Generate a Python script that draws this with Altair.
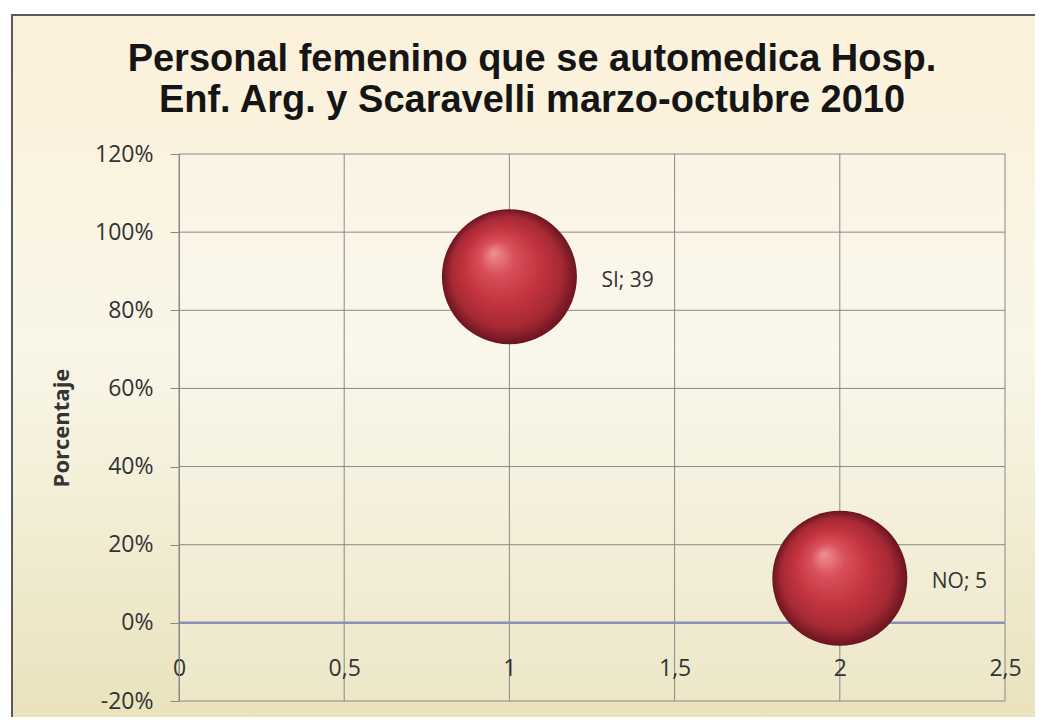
import altair as alt
import pandas as pd

# ---- data ----
categories = ["SI", "NO"]
x_values = [1, 2]
pct_values = [0.886, 0.114]
counts = [39, 5]
y_ticks = [-0.2, 0, 0.2, 0.4, 0.6, 0.8, 1.0, 1.2]
x_ticks = [0, 0.5, 1, 1.5, 2, 2.5]
title_lines = ["Personal femenino que se automedica Hosp.",
               "Enf. Arg. y Scaravelli marzo-octubre 2010"]
y_title = "Porcentaje"

df = pd.DataFrame({"cat": categories, "x": x_values, "pct": pct_values, "n": counts})
df_xgrid = pd.DataFrame({"x": x_ticks})
df_ygrid = pd.DataFrame({"pct": y_ticks})
df_zero = pd.DataFrame({"pct": [0]})

W, H = 826, 547
LABEL_FONT = "Open Sans"
GRID = "#888888"
TXT = "#333333"

x_scale = alt.Scale(domain=[0, 2.5], nice=False, zero=False)
y_scale = alt.Scale(domain=[-0.2, 1.2], nice=False, zero=False)

# chart-area background panel (gradient, with border)
panel = alt.Chart(alt.Data(values=[{}])).mark_rect(
    color=alt.LinearGradient(
        gradient="linear", x1=0, y1=0, x2=0, y2=1,
        stops=[alt.GradientStop(color="#fcf1da", offset=0),
               alt.GradientStop(color="#f9f6e8", offset=0.45),
               alt.GradientStop(color="#e8e0b8", offset=1)]),
    stroke="#5a5a5a", strokeWidth=2,
).encode(x=alt.value(-167), x2=alt.value(W + 60), y=alt.value(-139), y2=alt.value(H + 60))

plot_bg = alt.Chart(alt.Data(values=[{}])).mark_rect(
    color="#ffffff", opacity=0.15
).encode(x=alt.value(0), x2=alt.value(W), y=alt.value(0), y2=alt.value(H))

xgrid = alt.Chart(df_xgrid).mark_rule(color=GRID, strokeWidth=1).encode(
    x=alt.X("x:Q", scale=x_scale), y=alt.value(0), y2=alt.value(H))
ygrid = alt.Chart(df_ygrid).mark_rule(color=GRID, strokeWidth=1).encode(
    y=alt.Y("pct:Q", scale=y_scale), x=alt.value(0), x2=alt.value(W))
zero_line = alt.Chart(df_zero).mark_rule(color="#8a91b2", strokeWidth=2.5).encode(
    y=alt.Y("pct:Q", scale=y_scale), x=alt.value(0), x2=alt.value(W))

base = alt.Chart(df)

bubbles = base.mark_circle(
    size=18225, opacity=1,
    color=alt.RadialGradient(
        gradient="radial", x1=0.38, y1=0.32, r1=0, x2=0.5, y2=0.5, r2=0.5,
        stops=[alt.GradientStop(color="#ee9096", offset=0),
               alt.GradientStop(color="#d9505a", offset=0.25),
               alt.GradientStop(color="#c3343f", offset=0.55),
               alt.GradientStop(color="#a52934", offset=0.82),
               alt.GradientStop(color="#7a1a26", offset=0.95),
               alt.GradientStop(color="#6c1520", offset=1)]),
).encode(
    x=alt.X("x:Q", scale=x_scale,
            axis=alt.Axis(values=x_ticks, orient="bottom", offset=-78, zindex=1,
                          labelExpr="replace(format(datum.value, '.1~f'), '.', ',')",
                          ticks=False, tickSize=0, labelPadding=34, domain=False,
                          labelFont=LABEL_FONT, labelFontSize=23, labelColor=TXT,
                          labelFlush=False, labelOverlap=False,
                          grid=False, title=None)),
    y=alt.Y("pct:Q", scale=y_scale,
            axis=alt.Axis(values=y_ticks, zindex=1,
                          labelExpr="replace(format(datum.value, '.0%'), '\u2212', '-')",
                          tickSize=9, tickColor=GRID, labelPadding=17,
                          labelFont=LABEL_FONT, labelFontSize=23, labelColor=TXT,
                          domainColor=GRID, domainWidth=1, grid=False,
                          title=y_title, titleFont=LABEL_FONT, titleFontSize=22,
                          titleFontWeight="bold", titleColor=TXT,
                          titleAngle=-90, titleX=-111, titleY=H / 2,
                          titleAlign="center", titleBaseline="alphabetic")),
)

labels = base.transform_calculate(
    label="datum.cat + '; ' + datum.n"
).mark_text(
    align="left", baseline="middle", dx=92, dy=4,
    font=LABEL_FONT, fontSize=21, color=TXT,
).encode(x=alt.X("x:Q", scale=x_scale), y=alt.Y("pct:Q", scale=y_scale), text="label:N")

title = alt.Chart(alt.Data(values=[{"t": "\n".join(title_lines)}])).mark_text(
    font="Liberation Sans", fontSize=38, fontWeight="bold", color="#151515",
    align="center", baseline="alphabetic", lineBreak="\n", lineHeight=41,
).encode(x=alt.value(353), y=alt.value(-83), text="t:N")

chart = alt.layer(panel, plot_bg, xgrid, ygrid, zero_line, bubbles, labels, title).properties(
    width=W, height=H,
    autosize=alt.AutoSizeParams(type="none"),
    padding={"left": 171, "top": 146, "right": 30, "bottom": 16},
    background="#ffffff",
).configure_view(stroke=None)

chart.save("out.html", embed_options={"renderer": "svg", "actions": False})
